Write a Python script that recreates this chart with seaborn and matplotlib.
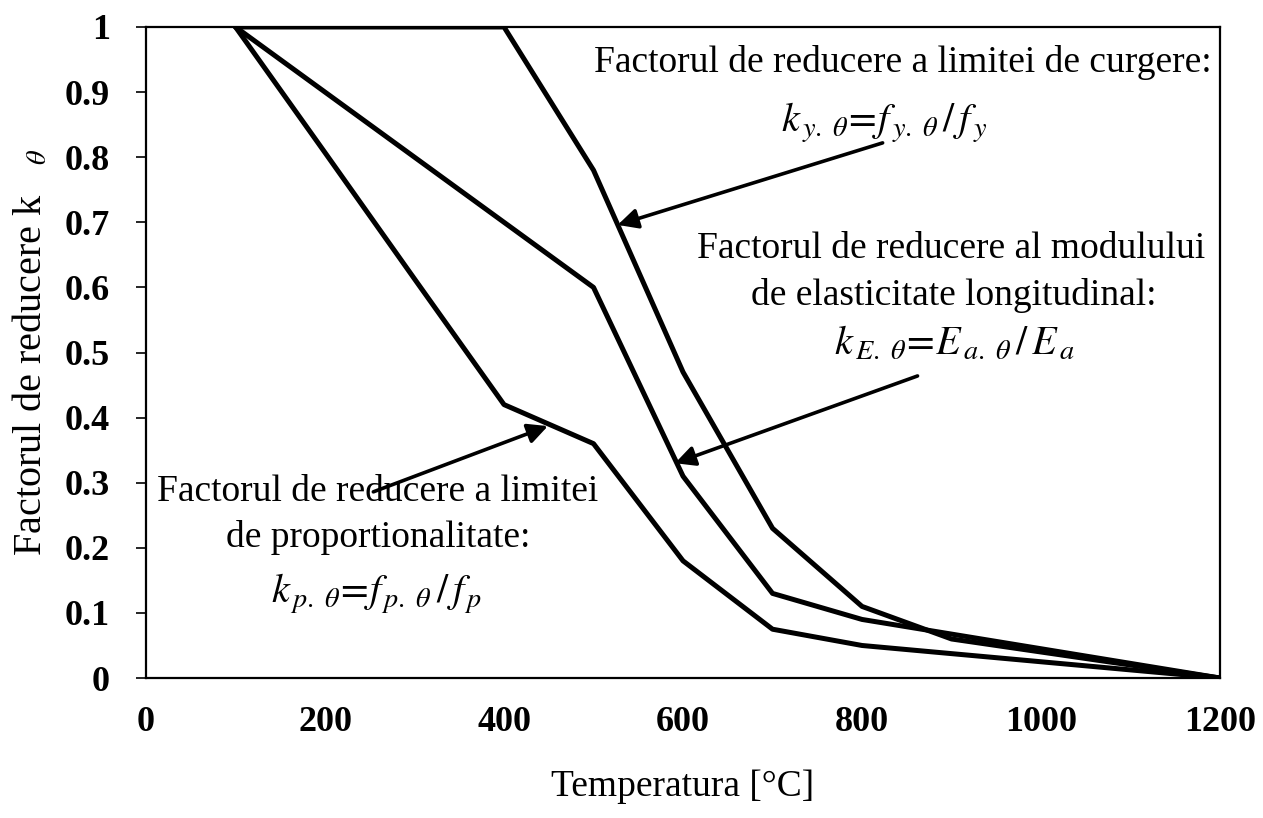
import matplotlib
matplotlib.use("Agg")
import matplotlib.pyplot as plt
import numpy as np
import pandas as pd
import seaborn as sns

# Reduction factors for carbon steel at elevated temperature
temperature = [100, 200, 300, 400, 500, 600, 700, 800, 900, 1000, 1100, 1200]
k_y = [1.0, 1.0, 1.0, 1.0, 0.78, 0.47, 0.23, 0.11, 0.06, 0.04, 0.02, 0.0]
k_E = [1.0, 0.9, 0.8, 0.7, 0.6, 0.31, 0.13, 0.09, 0.0675, 0.045, 0.0225, 0.0]
k_p = [1.0, 0.807, 0.613, 0.42, 0.36, 0.18, 0.075, 0.05, 0.0375, 0.025, 0.0125, 0.0]

x_ticks = [0, 200, 400, 600, 800, 1000, 1200]
y_ticks = [0, 0.1, 0.2, 0.3, 0.4, 0.5, 0.6, 0.7, 0.8, 0.9, 1.0]
y_tick_labels = ["0", "0.1", "0.2", "0.3", "0.4", "0.5", "0.6", "0.7", "0.8", "0.9", "1"]

df = pd.DataFrame({
    "T": temperature * 3,
    "k": k_y + k_E + k_p,
    "factor": ["ky"] * len(temperature) + ["kE"] * len(temperature) + ["kp"] * len(temperature),
})

sns.set_style("white")
plt.rcParams["font.family"] = ["Liberation Serif", "DejaVu Serif"]
plt.rcParams["mathtext.fontset"] = "stix"
for key in ("text.color", "axes.labelcolor", "xtick.color", "ytick.color"):
    plt.rcParams[key] = "black"

fig = plt.figure(figsize=(12.63, 8.18), dpi=100)
ax = fig.add_axes([0.1156, 0.1711, 0.966 - 0.1156, 0.967 - 0.1711])

sns.lineplot(data=df, x="T", y="k", hue="factor", units="factor", estimator=None,
             palette={"ky": "black", "kE": "black", "kp": "black"},
             linewidth=3.6, legend=False, ax=ax, sort=False)

ax.set_xlim(0, 1200)
ax.set_ylim(0, 1)
ax.set_xticks(x_ticks)
ax.set_xticklabels([str(v) for v in x_ticks], fontweight="bold")
ax.set_yticks(y_ticks)
ax.set_yticklabels(y_tick_labels, fontweight="bold")
ax.tick_params(axis="x", length=0, pad=20, labelsize=26)
ax.tick_params(axis="y", direction="out", length=7, width=1.2, pad=19, labelsize=26, left=True)
for s in ax.spines.values():
    s.set_color("black")
    s.set_linewidth(1.6)

ax.set_xlabel("Temperatura [°C]", fontsize=27, labelpad=22)
ax.set_ylabel(r"Factorul de reducere k   $_{\theta}$", fontsize=29, labelpad=10)

arrow = dict(arrowstyle="-|>", color="black", lw=2.6, mutation_scale=30,
             shrinkA=0, shrinkB=0)

# Yield strength factor
ax.text(846, 0.946, "Factorul de reducere a limitei de curgere:", fontsize=27,
        ha="center", va="center")
ax.text(825, 0.853, r"$k_{\,y.\ \theta}\!=\!f_{\,y.\ \theta}\,/\,f_{\,y}$", fontsize=29,
        ha="center", va="center")
ax.annotate("", xy=(527, 0.696), xytext=(823, 0.822), arrowprops=arrow)

# Elastic modulus factor
ax.text(900, 0.660, "Factorul de reducere al modulului", fontsize=27, ha="center", va="center")
ax.text(903, 0.587, "de elasticitate longitudinal:", fontsize=27, ha="center", va="center")
ax.text(903, 0.512, r"$k_{\,E.\ \theta}\!=\!E_{\,a.\ \theta}\,/\,E_{\,a}$", fontsize=29,
        ha="center", va="center")
ax.annotate("", xy=(591, 0.330), xytext=(862, 0.464), arrowprops=arrow)

# Proportional limit factor
ax.text(259, 0.286, "Factorul de reducere a limitei", fontsize=27, ha="center", va="center")
ax.text(259, 0.216, "de proportionalitate:", fontsize=27, ha="center", va="center")
ax.text(257, 0.130, r"$k_{\,p.\ \theta}\!=\!f_{\,p.\ \theta}\,/\,f_{\,p}$", fontsize=29,
        ha="center", va="center")
ax.annotate("", xy=(449, 0.387), xytext=(254, 0.286), arrowprops=arrow)

fig.savefig("out.png", dpi=100, facecolor="white")
